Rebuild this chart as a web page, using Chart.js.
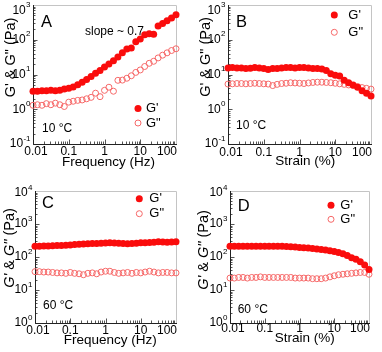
<!DOCTYPE html>
<html lang="en">
<head>
<meta charset="UTF-8">
<title>G' and G'' sweeps</title>
<script src="https://cdn.jsdelivr.net/npm/chart.js@4/dist/chart.umd.min.js"></script>
<style>
  html, body { margin: 0; padding: 0; background: #fff; }
  #wrap { position: relative; width: 382px; height: 352px; }
  canvas { position: absolute; }
</style>
</head>
<body>
<div id="wrap">
  <canvas id="pA" width="191" height="176" style="left:0;top:0"></canvas>
  <canvas id="pB" width="191" height="176" style="left:191px;top:0"></canvas>
  <canvas id="pC" width="191" height="176" style="left:0;top:176px"></canvas>
  <canvas id="pD" width="191" height="176" style="left:191px;top:176px"></canvas>
</div>
<script>
// shared x values (Hz for A/C, % strain for B/D)
const freq = [0.01, 0.0133, 0.0178, 0.0237, 0.0316, 0.0422, 0.0562, 0.075, 0.1, 0.133, 0.178, 0.237, 0.316, 0.422, 0.562, 0.75,
  1, 1.33, 1.78, 2.37, 3.16, 4.22, 5.62, 7.5, 10, 13.3, 17.8, 23.7, 31.6, 42.2, 56.2, 75, 100]
const strain = [0.01, 0.0133, 0.0178, 0.0237, 0.0316, 0.0422, 0.0562, 0.075, 0.1, 0.133, 0.178, 0.237, 0.316, 0.422, 0.562, 0.75,
  1, 1.33, 1.78, 2.37, 3.16, 4.22, 5.62, 7.5, 10, 13.3, 17.8, 23.7, 31.6, 42.2, 56.2, 75, 100]

// A: frequency sweep, 10 °C
const gpA = [3.3, 3.3, 3.4, 3.4, 3.5, 3.4, 3.5, 3.8, 4.0, 4.4, 5.1, 6.0, 7.2, 8.8, 10.8, 13,
  16.5, 20, 25, 32, 42, 54, 58, 88, 105, 140, 150, 145, 250, 295, 350, 420, 520]
const gppA = [1.3, 1.35, 1.3, 1.45, 1.35, 1.5, 1.35, 1.2, 1.6, 1.7, 1.8, 1.85, 2.0, 2.2, 2.9, 2.3,
  3.5, 4.3, 3.3, 6.8, 6.9, 7.8, 9.2, 11.5, 13.5, 17, 21, 24, 30, 36, 42, 49, 55]
// B: strain sweep, 10 °C
const gpB = [15.5, 15.8, 15.5, 15.3, 15.0, 15.2, 16.0, 15.5, 14.8, 14.0, 14.8, 15.0, 15.5, 16.0, 15.8, 15.5,
  15.8, 15.8, 15.5, 15.0, 15.0, 14.5, 13.0, 10.5, 9.5, 9.0, 6.8, 5.8, 5.0, 4.3, 3.4, 2.9, 2.4]
const gppB = [5.3, 5.4, 5.5, 5.5, 5.4, 5.5, 5.6, 5.5, 5.4, 5.3, 4.8, 5.2, 5.5, 5.6, 5.8, 5.7,
  5.6, 5.5, 5.7, 5.9, 6.0, 6.0, 5.9, 5.8, 5.6, 5.4, 5.2, 5.0, 4.8, 4.5, 4.2, 4.0, 3.8]
// C: frequency sweep, 60 °C
const gpC = [210, 212, 215, 215, 218, 222, 225, 228, 232, 238, 242, 248, 252, 255, 258, 262,
  265, 268, 265, 262, 255, 250, 255, 262, 268, 272, 275, 280, 288, 285, 280, 285, 288]
const gppC = [36, 36, 35, 35, 34, 33, 33, 32, 34, 32, 31, 29, 32, 33, 31, 35,
  37, 37, 34, 32, 33, 34, 32, 34, 33, 35, 37, 35, 33, 34, 34, 33, 33]
// D: strain sweep, 60 °C
const gpD = [210, 210, 210, 210, 210, 210, 210, 210, 210, 210, 210, 210, 210, 208, 205, 200,
  195, 190, 186, 182, 176, 170, 162, 155, 148, 138, 125, 112, 95, 85, 72, 57, 42]
const gppD = [23, 23, 24, 24, 23, 24, 24, 25, 24, 24, 24, 24, 24, 24, 24, 23,
  23, 23, 23, 22, 22, 22, 23, 25, 27, 29, 30, 31, 32, 33, 34, 34, 30]

const xTicks = [0.01, 0.1, 1, 10, 100]
const xTickText = ['0.01', '0.1', '1', '10', '100']
const yExpAB = [-1, 0, 1, 2, 3]
const yExpCD = [0, 1, 2, 3, 4]
const seriesNames = ["G'", 'G"']

const FONT = "'Liberation Sans', Arial, sans-serif"
const RED = 'rgb(250,12,12)'
const PINK = 'rgb(246,104,104)'

function txt(ctx, s, x, y, size, align, base, style) {
  ctx.font = (style || 'normal') + ' ' + size + 'px ' + FONT
  ctx.textAlign = align
  ctx.textBaseline = base
  ctx.fillStyle = '#000'
  ctx.fillText(s, x, y)
}

function dot(ctx, x, y, filled) {
  ctx.beginPath()
  if (filled) {
    ctx.arc(x, y, 3.5, 0, Math.PI * 2)
    ctx.fillStyle = RED
    ctx.fill()
  } else {
    ctx.arc(x, y, 3, 0, Math.PI * 2)
    ctx.strokeStyle = PINK
    ctx.lineWidth = 1
    ctx.stroke()
  }
}

function makeDecor(p) {
  return {
    id: 'decor',
    beforeDatasetsDraw(chart) {
      const { ctx, chartArea: a, scales: { x, y } } = chart
      ctx.save()
      ctx.lineWidth = 1
      ctx.strokeStyle = '#c4c4c4'
      ctx.beginPath()
      ctx.moveTo(a.left, a.top + 0.5)
      ctx.lineTo(a.right + 0.5, a.top + 0.5)
      ctx.lineTo(a.right + 0.5, a.bottom)
      ctx.stroke()

      // inward ticks on bottom and left
      ctx.strokeStyle = '#555'
      ctx.beginPath()
      for (let e = -2; e < 2; e++) {
        for (let k = 1; k < 10; k++) {
          const px = Math.round(x.getPixelForValue(k * Math.pow(10, e))) + 0.5
          const len = k === 1 ? 4.5 : 2.5
          ctx.moveTo(px, a.bottom)
          ctx.lineTo(px, a.bottom - len)
        }
      }
      for (let i = 0; i < p.yExp.length - 1; i++) {
        for (let k = 1; k < 10; k++) {
          const py = Math.round(y.getPixelForValue(k * Math.pow(10, p.yExp[i]))) + 0.5
          const len = k === 1 ? 4.5 : 2.5
          ctx.moveTo(a.left, py)
          ctx.lineTo(a.left + len, py)
        }
      }
      ctx.stroke()

      ctx.strokeStyle = '#222'
      ctx.beginPath()
      ctx.moveTo(a.left + 0.5, a.top)
      ctx.lineTo(a.left + 0.5, a.bottom + 0.5)
      ctx.lineTo(a.right + 1, a.bottom + 0.5)
      ctx.stroke()
      ctx.restore()
    },
    afterDraw(chart) {
      const { ctx, chartArea: a, scales: { x, y } } = chart
      ctx.save()
      // x tick labels
      xTicks.forEach((v, i) => {
        let px = x.getPixelForValue(v)
        let align = 'center'
        if (i === 0) px += 3
        if (i === xTicks.length - 1) { align = 'right'; px = a.right + 1 }
        txt(ctx, xTickText[i], px, p.xLabY, 12, align, 'middle')
      })
      // y tick labels 10^n
      p.yExp.forEach(e => {
        const py = Math.max(y.getPixelForValue(Math.pow(10, e)), p.topClamp)
        ctx.font = '8px ' + FONT
        const ew = ctx.measureText(String(e)).width
        const right = a.left - 2.5
        txt(ctx, String(e), right, py - 5.5, 8, 'right', 'middle')
        txt(ctx, '10', right - ew - 0.3, py, 12, 'right', 'middle')
      })
      // x title
      txt(ctx, p.xTitle, p.xTitleX, p.xTitleY, 13.5, 'center', 'alphabetic')
      // y title, rotated, G's italic on C/D
      const parts = [["G'", p.italic], [' & ', false], ['G"', p.italic], [' (Pa)', false]]
      ctx.translate(p.yTitleX, p.yTitleY)
      ctx.rotate(-Math.PI / 2)
      let total = 0
      parts.forEach(([s, it]) => { ctx.font = (it ? 'italic ' : '') + '14.5px ' + FONT; total += ctx.measureText(s).width })
      let cx = -total / 2
      parts.forEach(([s, it]) => {
        txt(ctx, s, cx, 0, 14.5, 'left', 'middle', it ? 'italic' : 'normal')
        cx += ctx.measureText(s).width
      })
      ctx.setTransform(1, 0, 0, 1, 0, 0)
      // panel letter, temperature
      txt(ctx, p.letter, p.letterX, p.letterY, 16.5, 'left', 'alphabetic')
      txt(ctx, p.temp, p.tempX, p.tempY, 12, 'left', 'alphabetic')
      if (p.note) txt(ctx, p.note, 85, 35, 12, 'left', 'alphabetic')
      // legend
      dot(ctx, p.lgX, p.lgY1, true)
      dot(ctx, p.lgX, p.lgY2, false)
      txt(ctx, seriesNames[0], p.lgTx, p.lgY1, 13, 'left', 'middle')
      txt(ctx, seriesNames[1], p.lgTx, p.lgY2, 13, 'left', 'middle')
      ctx.restore()
    }
  }
}

function makePanel(id, xs, gp, gpp, p) {
  new Chart(document.getElementById(id), {
    type: 'scatter',
    data: {
      datasets: [
        {
          label: seriesNames[0],
          data: xs.map((v, i) => ({ x: v, y: gp[i] })),
          pointRadius: 3.5, pointHoverRadius: 3.5,
          pointBackgroundColor: RED, pointBorderColor: RED, pointBorderWidth: 0,
          clip: false
        },
        {
          label: seriesNames[1],
          data: xs.map((v, i) => ({ x: v, y: gpp[i] })),
          pointRadius: 3, pointHoverRadius: 3,
          pointBackgroundColor: 'rgba(0,0,0,0)', pointBorderColor: PINK, pointBorderWidth: 1,
          clip: false
        }
      ]
    },
    options: {
      responsive: false,
      animation: false,
      devicePixelRatio: 1,
      layout: { padding: { left: 0, right: 191 - p.R, top: p.T, bottom: 0 } },
      plugins: { legend: { display: false }, tooltip: { enabled: false } },
      scales: {
        x: {
          type: 'logarithmic', min: 0.01, max: 100,
          grid: { display: false }, border: { display: false }, ticks: { display: false },
          afterFit: s => { s.height = p.xH }
        },
        y: {
          type: 'logarithmic', min: Math.pow(10, p.yExp[0]), max: Math.pow(10, p.yExp[p.yExp.length - 1]),
          grid: { display: false }, border: { display: false }, ticks: { display: false },
          afterFit: s => { s.width = p.yW }
        }
      }
    },
    plugins: [makeDecor(p)]
  })
}

makePanel('pA', freq, gpA, gppA, {
  yW: 33, R: 176, T: 5, xH: 32, yExp: yExpAB, topClamp: 10.5,
  xLabY: 152, xTitle: 'Frequency (Hz)', xTitleX: 108.5, xTitleY: 166,
  yTitleX: 10.5, yTitleY: 57.5, italic: false,
  letter: 'A', letterX: 41, letterY: 27, temp: '10 °C', tempX: 42, tempY: 131.7, note: 'slope ~ 0.7',
  lgX: 138, lgY1: 108.5, lgY2: 123, lgTx: 146
})
makePanel('pB', strain, gpB, gppB, {
  yW: 37, R: 180, T: 5, xH: 32, yExp: yExpAB, topClamp: 10.5,
  xLabY: 152.5, xTitle: 'Strain (%)', xTitleX: 114.2, xTitleY: 165,
  yTitleX: 14.7, yTitleY: 57, italic: false,
  letter: 'B', letterX: 45, letterY: 27, temp: '10 °C', tempX: 45, tempY: 129,
  lgX: 143.3, lgY1: 15, lgY2: 32.3, lgTx: 157.3
})
makePanel('pC', freq, gpC, gppC, {
  yW: 35, R: 176, T: 15, xH: 29, yExp: yExpCD, topClamp: 17,
  xLabY: 154.5, xTitle: 'Frequency (Hz)', xTitleX: 110.3, xTitleY: 167.7,
  yTitleX: 10, yTitleY: 72, italic: true,
  letter: 'C', letterX: 42, letterY: 32, temp: '60 °C', tempX: 43, tempY: 133,
  lgX: 139.3, lgY1: 22.7, lgY2: 37.7, lgTx: 149.3
})
makePanel('pD', strain, gpD, gppD, {
  yW: 39, R: 178, T: 15, xH: 29, yExp: yExpCD, topClamp: 17,
  xLabY: 153, xTitle: 'Strain (%)', xTitleX: 113.7, xTitleY: 165.7,
  yTitleX: 13.3, yTitleY: 74, italic: true,
  letter: 'D', letterX: 46.7, letterY: 35, temp: '60 °C', tempX: 46.7, tempY: 136.7,
  lgX: 140, lgY1: 29.3, lgY2: 43.3, lgTx: 149.3
})
</script>
</body>
</html>
